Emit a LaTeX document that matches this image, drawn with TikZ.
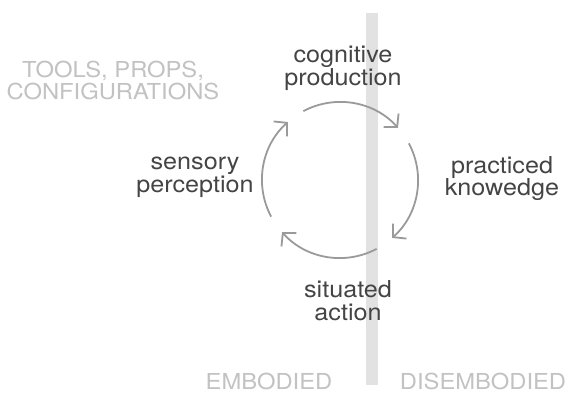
\documentclass[tikz,border=0pt]{standalone}
\usepackage{fontspec}
\setmainfont{TeX Gyre Heros}
\newfontfamily\widesans[FakeStretch=1.08]{TeX Gyre Heros}
\newfontfamily\widecaps[FakeStretch=1.08]{TeX Gyre Heros}
\usetikzlibrary{arrows.meta}
\definecolor{loopgray}{HTML}{9A9A9A}
\definecolor{bargray}{HTML}{E2E2E2}
\definecolor{textgray}{HTML}{444444}
\definecolor{palegray}{HTML}{C2C2C2}

\begin{document}
\begin{tikzpicture}[x=1pt,y=1pt,
    stage/.style={align=center,inner sep=0pt,text=textgray,
      font=\widesans\fontsize{23.3}{22.5}\selectfont},
    side/.style={align=center,inner sep=0pt,text=palegray,
      font=\widecaps\fontsize{22}{22.5}\selectfont}]
  \useasboundingbox (0,0) rectangle (569,393);
   \coordinate (Centre) at (340,213);
   \coordinate (BarBottom) at (366,8);
   \coordinate (BarTop) at (378,380);
  % the divide between embodied and disembodied
  \fill[bargray] (BarBottom) rectangle (BarTop);
  \foreach \a in {0,90,180,270}{% four arcs, clockwise
    \draw[loopgray,line width=1.8pt,-{Straight Barb[length=9pt,width=20pt]}]
      (Centre) ++(118-\a:78) arc[start angle=118-\a,end angle=42-\a,radius=78];
  }
  \node[stage] (cog) at (343,324.5) {cognitive\\production};
  \node[stage] (prac) at (502,214.5) {practiced\\knowedge};
  \node[stage] (sit) at (348,92.5) {situated\\action};
  \node[stage] (sens) at (195,215.5) {sensory\\perception};
  \node[side] (tools) at (113,312.7) {TOOLS, PROPS,\\CONFIGURATIONS};
  \node[side] (emb) at (269,11.5) {EMBODIED};
  \node[side] (disemb) at (483,11.5) {DISEMBODIED};
\end{tikzpicture}
\end{document}
